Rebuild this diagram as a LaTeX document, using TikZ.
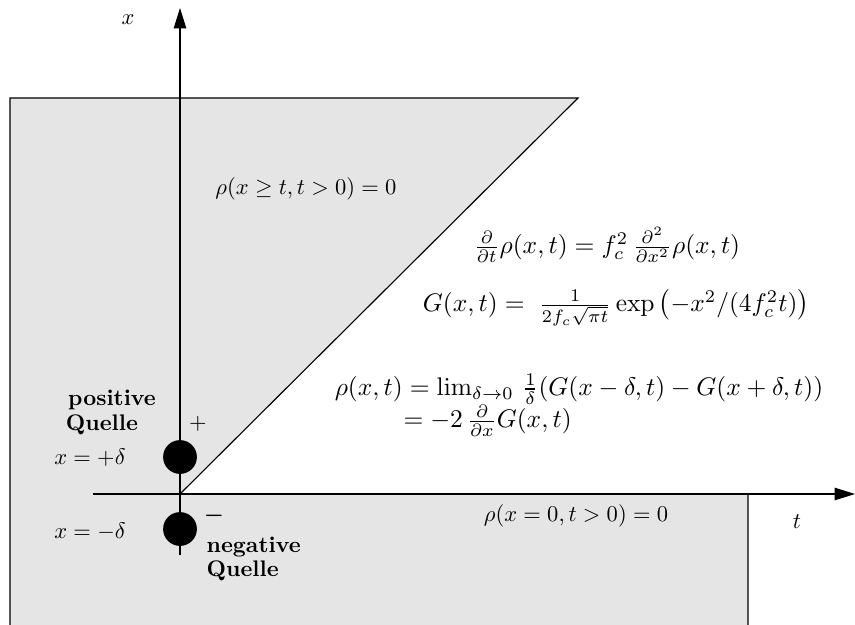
\documentclass[tikz,border=0pt]{standalone}
\usepackage{amsmath,amssymb}
\usetikzlibrary{arrows.meta}

\begin{document}
\begin{tikzpicture}[x=0.0156cm, y=-0.0156cm]
    % Define colours
    \definecolor{regionColour}{HTML}{E5E5E5}

    % Define styles
    \tikzset{
        axisline/.style={line width=0.5pt, -{Triangle[length=9pt,width=5.5pt]}},
        source/.style={circle, fill=black, inner sep=0pt, minimum size=15pt},
        label/.style={inner sep=1pt},
        equation/.style={inner sep=0pt, scale=1.13},
    }

    % Fix the page
    \useasboundingbox (0,0) rectangle (855,624);

    % Define coordinates
    \coordinate (O) at (180,494);
    \coordinate (TL) at (10,98);
    \coordinate (TR) at (578,98);
    \coordinate (BR) at (748,494);

    % Draw the region where rho vanishes
    \filldraw[fill=regionColour, draw=black, line width=0.5pt]
        (10,640) -- (TL) -- (TR) -- (O) -- (BR) -- (748,640);
    \fill[regionColour] (11,495) rectangle (747,640);

    % Draw axes
    \draw[axisline] (180,555) -- (180,8);
    \draw[axisline] (93,494) -- (855,494);
    \node[label] (xlab) at (128,20) {$x$};
    \node[label] (tlab) at (797,522) {$t$};

    % Draw the two sources
    \node[source] (plus) at (180,457) {};
    \node[source] (minus) at (180,529) {};
    \node[label] (plussign) at (198,424) {$+$};
    \node[label] (minussign) at (214,516) {$\boldsymbol{-}$};
    \node[label] (xplus) at (90,458) {$x=+\delta$};
    \node[label] (xminus) at (90,532) {$x=-\delta$};
    \node[label] (pos) at (112,400) {\bfseries positive};
    \node[label] (posq) at (102,425) {\bfseries Quelle};
    \node[label, anchor=west] (neg) at (204,547) {\bfseries negative};
    \node[label, anchor=west] (negq) at (204,571) {\bfseries Quelle};

    % Boundary conditions
    \node[label] (bcup) at (306,189) {$\rho(x\geq t, t>0)=0$};
    \node[label] (bclow) at (576,516) {$\rho(x=0, t>0)=0$};

    % Equations
    \node[equation] (diff) at (607,245)
        {$\tfrac{\partial}{\partial t}\rho(x,t) = f_c^2\,\tfrac{\partial^2}{\partial x^2}\rho(x,t)$};
    \node[equation] (green) at (616,308)
        {$G(x,t) = \;\tfrac{1}{2f_c\sqrt{\pi t}}\exp\left(-x^2/(4f_c^2t)\right)$};
    \node[equation] (limit) at (579,389)
        {$\rho(x,t) = \lim_{\delta\to0}\,\tfrac{1}{\delta}(G(x-\delta,t)-G(x+\delta,t))$};
    \node[equation, anchor=west] (deriv) at (403,421)
        {$= -2\,\tfrac{\partial}{\partial x}G(x,t)$};
\end{tikzpicture}
\end{document}
